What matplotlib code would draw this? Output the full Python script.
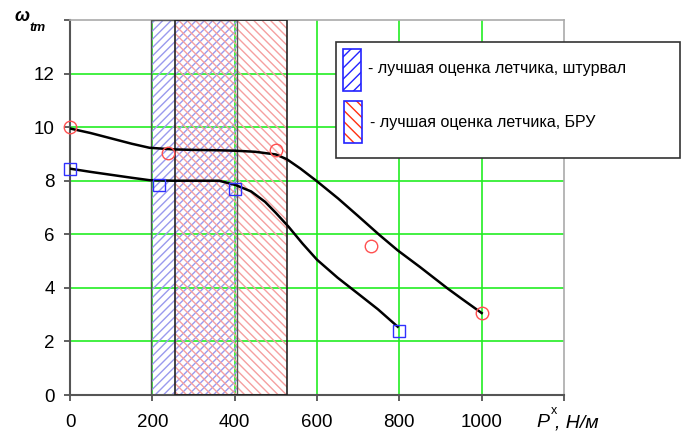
import matplotlib.pyplot as plt
from matplotlib.patches import Rectangle

plt.rcParams['font.family'] = ['Liberation Sans', 'DejaVu Sans']
plt.rcParams['hatch.linewidth'] = 1.0

# Измеренные точки
circ_x = [0, 238, 500, 730, 1000]
circ_y = [10.0, 9.03, 9.13, 5.55, 3.05]
sq_x = [0, 217, 400, 800]
sq_y = [8.42, 7.84, 7.70, 2.40]

# Сглаженные кривые
upper_x = [0, 50, 100, 150, 193, 250, 300, 350, 402, 450, 500, 527, 560, 599, 651, 700, 752, 796, 850, 917, 950, 1000]
upper_y = [9.95, 9.78, 9.58, 9.38, 9.23, 9.17, 9.15, 9.14, 9.12, 9.08, 8.98, 8.80, 8.45, 7.99, 7.34, 6.68, 5.97, 5.40, 4.78, 3.98, 3.61, 3.06]
lower_x = [0, 50, 100, 150, 193, 250, 300, 362, 402, 440, 474, 500, 531, 565, 600, 650, 700, 748, 796]
lower_y = [8.45, 8.33, 8.22, 8.11, 8.02, 8.00, 8.00, 8.00, 7.84, 7.60, 7.21, 6.80, 6.28, 5.65, 5.05, 4.38, 3.78, 3.20, 2.55]

# Зоны оценок
zone_wheel = (196, 405)
zone_bru = (255, 527)

xticks = [0, 200, 400, 600, 800, 1000, 1200]
xlabels = ['0', '200', '400', '600', '800', '1000', '']
yticks = [0, 2, 4, 6, 8, 10, 12, 14]
ylabels = ['0', '2', '4', '6', '8', '10', '12', '']

legend_texts = ['- лучшая оценка летчика, штурвал', '- лучшая оценка летчика, БРУ']

fig = plt.figure(figsize=(6.83, 4.32), dpi=100)
W, H = 683, 432
ax = fig.add_axes([70 / W, (H - 395) / H, (564 - 70) / W, (395 - 20) / H])
ax.set_xlim(0, 1200)
ax.set_ylim(0, 14)

# сетка
for x in xticks[1:-1]:
    ax.axvline(x, color='#22ee22', lw=1.2, zorder=1)
for y in yticks[1:-1]:
    ax.axhline(y, color='#22ee22', lw=1.2, zorder=1)

# заштрихованные зоны
ax.add_patch(Rectangle((zone_wheel[0], 0), zone_wheel[1] - zone_wheel[0], 14, fill=False,
                       hatch='////', edgecolor='#9a9aee', lw=0, zorder=2))
ax.add_patch(Rectangle((zone_bru[0], 0), zone_bru[1] - zone_bru[0], 14, fill=False,
                       hatch='\\\\\\\\', edgecolor='#f5a0a0', lw=0, zorder=2))
ax.add_patch(Rectangle((zone_wheel[0], 0), zone_wheel[1] - zone_wheel[0], 14, fill=False,
                       edgecolor='#555555', lw=1.0, zorder=3))
ax.add_patch(Rectangle((zone_bru[0], 0), zone_bru[1] - zone_bru[0], 14, fill=False,
                       edgecolor='#222222', lw=1.2, zorder=3))

ax.plot(upper_x, upper_y, color='black', lw=1.8, zorder=4)
ax.plot(lower_x, lower_y, color='black', lw=1.8, zorder=4)
ax.plot(circ_x, circ_y, 'o', ms=9, mfc='none', mec='#ff5050', mew=1.0, zorder=5, clip_on=False)
ax.plot(sq_x, sq_y, 's', ms=9, mfc='none', mec='#3030ff', mew=1.0, zorder=5, clip_on=False)

ax.set_xticks(xticks)
ax.set_xticklabels(xlabels)
ax.set_yticks(yticks)
ax.set_yticklabels(ylabels)
ax.tick_params(axis='both', direction='out', length=4, width=1.2, color='#444444', labelsize=13.5)
ax.tick_params(axis='x', pad=10)
ax.tick_params(axis='y', pad=7)
for s in ['left', 'bottom']:
    ax.spines[s].set_color('#555555')
    ax.spines[s].set_linewidth(1.5)
for s in ['top', 'right']:
    ax.spines[s].set_color('#aaaaaa')
    ax.spines[s].set_linewidth(1.2)

# подписи осей
fig.text(15 / W, 1 - 21 / H, 'ω', fontsize=13, fontweight='bold', style='italic', va='baseline')
fig.text(29 / W, 1 - 31 / H, 'tm', fontsize=9.5, fontweight='bold', style='italic', va='baseline')
fig.text(536 / W, 1 - 427 / H, 'P', fontsize=14, style='italic', va='baseline')
fig.text(551 / W, 1 - 414 / H, 'x', fontsize=9, va='baseline')
fig.text(555 / W, 1 - 427 / H, ', Н/м', fontsize=14, style='italic', va='baseline')

# легенда
fig.add_artist(Rectangle((336 / W, 1 - 158 / H), (680 - 336) / W, (158 - 42) / H,
                         transform=fig.transFigure, facecolor='white', edgecolor='#333333', lw=1.2, zorder=10))
fig.add_artist(Rectangle((343 / W, 1 - 91 / H), 18 / W, 42 / H, transform=fig.transFigure,
                         facecolor='white', hatch='///', edgecolor='#2222ff', lw=1.2, zorder=11))
fig.add_artist(Rectangle((344 / W, 1 - 143 / H), 18 / W, 42 / H, transform=fig.transFigure,
                         facecolor='white', hatch='\\\\\\', edgecolor='#ff3010', lw=0, zorder=11))
fig.add_artist(Rectangle((344 / W, 1 - 143 / H), 18 / W, 42 / H, transform=fig.transFigure,
                         fill=False, edgecolor='#2222ff', lw=1.2, zorder=12))
fig.text(368 / W, 1 - 68 / H, legend_texts[0], fontsize=11.5, va='center', zorder=13)
fig.text(370 / W, 1 - 122 / H, legend_texts[1], fontsize=11.5, va='center', zorder=13)

fig.savefig('out.png', dpi=100)
